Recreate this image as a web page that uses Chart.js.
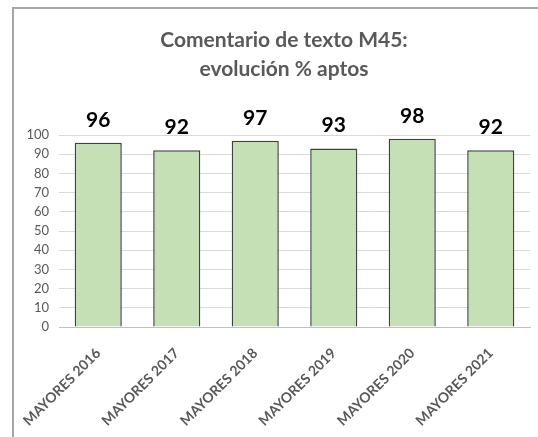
<!DOCTYPE html>
<html>
<head>
<meta charset="utf-8">
<script src="https://cdn.jsdelivr.net/npm/chart.js@4.4.1/dist/chart.umd.min.js"></script>
<style>
  html, body { margin: 0; padding: 0; background: #fff; }
  #wrap { position: relative; width: 538px; height: 437px; overflow: hidden; }
  #frame { position: absolute; left: 12px; top: 7px; width: 600px; height: 500px;
           border: 2px solid #a6a6a6; pointer-events: none; }
  canvas { position: absolute; left: 0; top: 0; }
</style>
</head>
<body>
<div id="wrap">
  <canvas id="chart" width="538" height="437"></canvas>
  <div id="frame"></div>
</div>
<script>
const titleLines = ['Comentario de texto M45:', 'evolución % aptos'];
const years      = ['MAYORES 2016', 'MAYORES 2017', 'MAYORES 2018', 'MAYORES 2019', 'MAYORES 2020', 'MAYORES 2021'];
const aptos      = [96, 92, 97, 93, 98, 92];
const yTicks     = [0, 10, 20, 30, 40, 50, 60, 70, 80, 90, 100];

const FONT = 'Lato, "Open Sans", sans-serif';

// two-line title, centred a little right of the canvas middle as in the original
const chartTitle = {
  id: 'chartTitle',
  afterDraw(chart) {
    const ctx = chart.ctx;
    ctx.save();
    ctx.font = 'bold 21px ' + FONT;
    ctx.fillStyle = '#595959';
    ctx.textAlign = 'center';
    ctx.textBaseline = 'middle';
    titleLines.forEach((t, i) => ctx.fillText(t, 284, 40 + i * 29));
    ctx.restore();
  }
};

// value labels above each bar
const barLabels = {
  id: 'barLabels',
  afterDatasetsDraw(chart) {
    const ctx = chart.ctx;
    const meta = chart.getDatasetMeta(0);
    ctx.save();
    ctx.font = 'bold 21px ' + FONT;
    ctx.fillStyle = '#000';
    ctx.textAlign = 'center';
    ctx.textBaseline = 'alphabetic';
    meta.data.forEach((bar, i) => {
      ctx.fillText(chart.data.datasets[0].data[i], bar.x, bar.y - 16);
    });
    ctx.restore();
  }
};

new Chart(document.getElementById('chart'), {
  type: 'bar',
  data: {
    labels: years,
    datasets: [{
      data: aptos,
      backgroundColor: '#c5e0b4',
      borderColor: '#404040',
      borderWidth: 1.5,
      borderSkipped: 'bottom',
      barPercentage: 0.6,
      categoryPercentage: 1
    }]
  },
  options: {
    responsive: false,
    animation: false,
    layout: { padding: { left: 0, right: 8, top: 135, bottom: 0 } },
    plugins: {
      legend: { display: false },
      tooltip: { enabled: false },
      title: { display: false }
    },
    scales: {
      y: {
        min: 0, max: 100,
        afterBuildTicks: s => { s.ticks = yTicks.map(v => ({ value: v })); },
        afterFit: s => { s.width = 59; },
        border: { display: false },
        grid: { color: '#d9d9d9', lineWidth: 1, drawTicks: false },
        ticks: { color: '#595959', font: { family: FONT, size: 13 }, padding: 10 }
      },
      x: {
        afterFit: s => { s.height = 110; },
        border: { color: '#bfbfbf', width: 1 },
        grid: { display: false },
        ticks: {
          color: '#595959',
          font: { family: FONT, size: 14, weight: 'bold' },
          maxRotation: 45, minRotation: 45,
          padding: 10
        }
      }
    }
  },
  plugins: [chartTitle, barLabels]
});
</script>
</body>
</html>
